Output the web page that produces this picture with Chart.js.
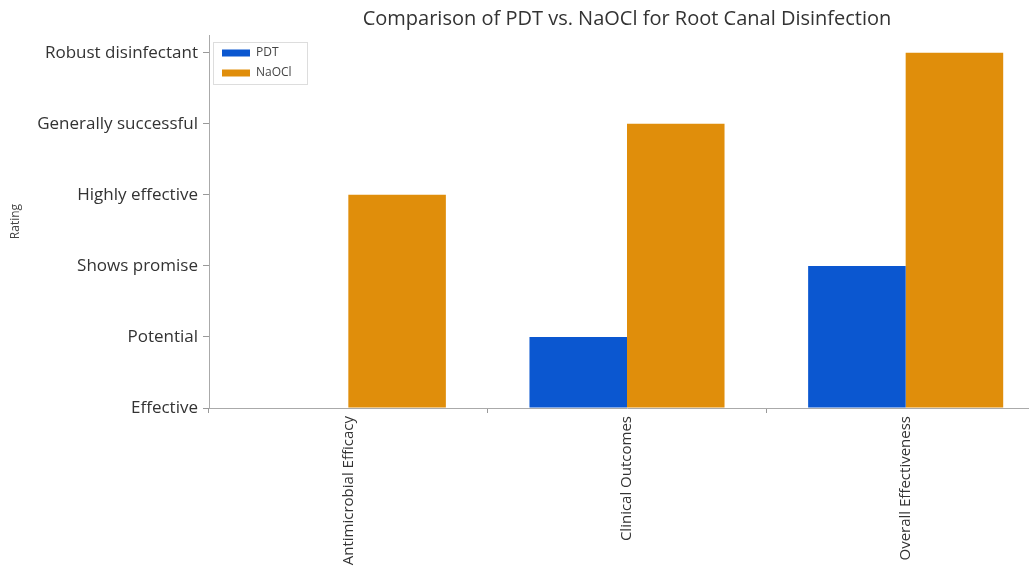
<!DOCTYPE html>
<html>
<head>
<meta charset="utf-8">
<script src="https://cdn.jsdelivr.net/npm/chart.js@4"></script>
<style>
  html, body { margin: 0; padding: 0; background: #fff; overflow: hidden; }
  #wrap { width: 1045px; height: 600px; position: relative; }
</style>
</head>
<body>
<div id="wrap"><canvas id="chart"></canvas></div>
<script>
// categories on the x axis
const categories = ['Antimicrobial Efficacy', 'Clinical Outcomes', 'Overall Effectiveness'];
// y axis is a rating scale shown as words
const ratingLabels = ['Effective', 'Potential', 'Shows promise', 'Highly effective', 'Generally successful', 'Robust disinfectant'];
// series values (index into ratingLabels)
const pdtValues = [0, 1, 2];
const naoclValues = [3, 4, 5];

Chart.defaults.font.family = '"Open Sans", sans-serif';
Chart.defaults.color = '#333';

// chartArea legends get top = 0 in v4, so push it down inside the plot
// and draw a thin frame round it like matplotlib does
const legendInside = {
    id: 'legendInside',
    afterLayout(chart) {
        const lg = chart.legend;
        if (!lg) return;
        lg.left = chart.chartArea.left + 5;
        lg.top = chart.chartArea.top + 4;
    },
    afterDraw(chart) {
        const boxes = chart.legend && chart.legend.legendHitBoxes;
        if (!boxes || !boxes.length) return;
        let x0 = Infinity, y0 = Infinity, x1 = -Infinity, y1 = -Infinity;
        boxes.forEach(b => {
            x0 = Math.min(x0, b.left); y0 = Math.min(y0, b.top);
            x1 = Math.max(x1, b.left + b.width); y1 = Math.max(y1, b.top + b.height);
        });
        const ctx = chart.ctx;
        ctx.save();
        ctx.strokeStyle = '#dddddd';
        ctx.lineWidth = 1;
        ctx.strokeRect(Math.round(x0 - 9) + 0.5, Math.round(y0 - 5) + 0.5,
                       Math.round(x1 - x0 + 24), Math.round(y1 - y0 + 10));
        ctx.restore();
    }
};

const ctx = document.getElementById('chart');
new Chart(ctx, {
    type: 'bar',
    data: {
        labels: categories,
        datasets: [{
            label: 'PDT',
            data: pdtValues,
            backgroundColor: '#0B57D0',
            borderWidth: 0
        }, {
            label: 'NaOCl',
            data: naoclValues,
            backgroundColor: '#E08E0B',
            borderWidth: 0
        }]
    },
    options: {
        responsive: true,
        maintainAspectRatio: false,
        animation: false,
        layout: { padding: 0 },
        datasets: {
            bar: { categoryPercentage: 0.7, barPercentage: 1.0 }
        },
        plugins: {
            title: {
                display: true,
                text: 'Comparison of PDT vs. NaOCl for Root Canal Disinfection',
                fullSize: false,
                font: { size: 20, weight: 'normal' },
                color: '#333',
                padding: { top: 7, bottom: 4 }
            },
            legend: {
                position: 'chartArea',
                align: 'start',
                labels: {
                    boxWidth: 28,
                    boxHeight: 7,
                    padding: 8,
                    font: { size: 12 },
                    color: '#444'
                }
            },
            tooltip: { enabled: false }
        },
        scales: {
            x: {
                grid: {
                    display: true,
                    drawOnChartArea: false,
                    drawTicks: true,
                    tickLength: 5,
                    color: '#999'
                },
                border: { display: true, color: '#aaa' },
                ticks: {
                    autoSkip: false,
                    minRotation: 90,
                    maxRotation: 90,
                    padding: 3,
                    font: { size: 15 },
                    color: '#333'
                },
                afterFit(scale) { scale.height = 192; }
            },
            y: {
                min: 0,
                max: 5.25,
                grid: {
                    display: true,
                    drawOnChartArea: false,
                    drawTicks: true,
                    tickLength: 6,
                    color: '#999'
                },
                border: { display: true, color: '#aaa' },
                ticks: {
                    stepSize: 1,
                    includeBounds: false,
                    padding: 5,
                    font: { size: 17 },
                    color: '#333',
                    callback: (v) => ratingLabels[v] !== undefined ? ratingLabels[v] : ''
                },
                title: {
                    display: true,
                    text: 'Rating',
                    font: { size: 12 },
                    color: '#444',
                    padding: { top: 8, bottom: 0 }
                },
                afterFit(scale) { scale.width = 209; }
            }
        }
    },
    plugins: [legendInside]
});
</script>
</body>
</html>
